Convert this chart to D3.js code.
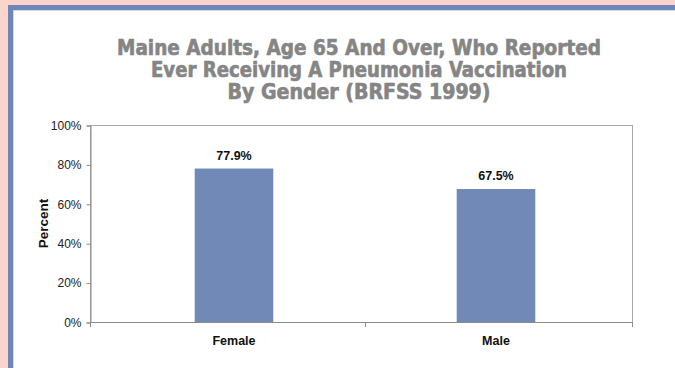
<!DOCTYPE html>
<html><head><meta charset="utf-8">
<script src="https://cdn.jsdelivr.net/npm/d3@7"></script>
<style>html,body{margin:0;padding:0;background:#fbd5cb;} svg{display:block}</style>
</head><body><svg id="c" width="675" height="368"></svg>
<script>
// Pneumonia vaccination among Maine adults 65+, by gender (BRFSS 1999)
const categories = ["Female", "Male"];
const values = [77.9, 67.5];
const valueLabels = ["77.9%", "67.5%"];
const yTicks = [0, 20, 40, 60, 80, 100];
const titleLines = [
  "Maine Adults, Age 65 And Over, Who Reported",
  "Ever Receiving A Pneumonia Vaccination",
  "By Gender (BRFSS 1999)"
];
const yTitle = "Percent";

const W = 675, H = 368;
const plot = {left: 90, right: 632, top: 125, bottom: 322};
const svg = d3.select("#c");

// page frame: pink margin, blue border, white panel
svg.append("rect").attr("width", W).attr("height", H).attr("fill", "#fbd5cb");
svg.append("rect").attr("x", 8).attr("y", 5).attr("width", W).attr("height", H).attr("fill", "#6f87b7");
svg.append("rect").attr("x", 13).attr("y", 10).attr("width", W).attr("height", H).attr("fill", "#cdd8ea");
svg.append("rect").attr("x", 14).attr("y", 11).attr("width", W).attr("height", H).attr("fill", "#ffffff");

// title (heavy condensed face)
const titleWidths = [484, 416, 263];
svg.append("g").selectAll("text").data(titleLines).join("text")
  .attr("x", 359).attr("y", (d, i) => 55 + i * 22)
  .attr("text-anchor", "middle")
  .attr("font-family", "'Liberation Sans Narrow', 'DejaVu Sans Condensed', sans-serif")
  .attr("font-weight", "bold")
  .attr("font-size", 20.5)
  .attr("fill", "#858585")
  .attr("stroke", "#858585").attr("stroke-width", 0.6)
  .attr("textLength", (d, i) => titleWidths[i])
  .attr("lengthAdjust", "spacingAndGlyphs")
  .text(d => d);

const y = d3.scaleLinear().domain([0, 100]).range([plot.bottom, plot.top]);
const x = d3.scaleBand().domain(categories).range([103, 627]);
const barW = x.bandwidth() * 0.3;

// plot frame
svg.append("rect")
  .attr("x", plot.left + 0.5).attr("y", plot.top + 0.5)
  .attr("width", plot.right - plot.left).attr("height", plot.bottom - plot.top)
  .attr("fill", "none").attr("stroke", "#a8a8a8").attr("stroke-width", 1);

// y axis
const yAxis = d3.axisLeft(y).tickValues(yTicks).tickFormat(d => d + "%").tickSize(4).tickPadding(5);
const ya = svg.append("g").attr("transform", `translate(${plot.left + 0.5},0.5)`).call(yAxis);
ya.select(".domain").attr("stroke", "#8c8c8c");
ya.selectAll(".tick line").attr("stroke", "#8c8c8c");
ya.selectAll("text").attr("font-family", "'Liberation Sans', Arial, sans-serif")
  .attr("font-size", 12).attr("fill", "#222");

// x axis line with category boundary ticks
svg.append("line").attr("x1", plot.left).attr("x2", plot.right + 1)
  .attr("y1", plot.bottom + 0.5).attr("y2", plot.bottom + 0.5)
  .attr("stroke", "#8c8c8c");
const bounds = [plot.left, x("Male"), plot.right];
svg.append("g").selectAll("line").data(bounds).join("line")
  .attr("x1", d => Math.round(d) + 0.5).attr("x2", d => Math.round(d) + 0.5)
  .attr("y1", plot.bottom).attr("y2", plot.bottom + 5)
  .attr("stroke", "#8c8c8c");

// bars
const data = categories.map((c, i) => ({c, v: values[i], label: valueLabels[i]}));
svg.append("g").selectAll("rect").data(data).join("rect")
  .attr("x", d => x(d.c) + (x.bandwidth() - barW) / 2)
  .attr("y", d => y(d.v))
  .attr("width", barW)
  .attr("height", d => y(0) - y(d.v))
  .attr("fill", "#7189b7");

// value labels
svg.append("g").selectAll("text").data(data).join("text")
  .attr("x", d => x(d.c) + x.bandwidth() / 2)
  .attr("y", d => y(d.v) - 9)
  .attr("text-anchor", "middle")
  .attr("font-family", "'Liberation Sans', Arial, sans-serif")
  .attr("font-weight", "bold").attr("font-size", 12.5).attr("fill", "#111")
  .text(d => d.label);

// category labels
svg.append("g").selectAll("text").data(categories).join("text")
  .attr("x", d => x(d) + x.bandwidth() / 2)
  .attr("y", 345)
  .attr("text-anchor", "middle")
  .attr("font-family", "'Liberation Sans', Arial, sans-serif")
  .attr("font-weight", "bold").attr("font-size", 12.5).attr("fill", "#111")
  .text(d => d);

// y axis title
svg.append("text")
  .attr("transform", `translate(48,${(plot.top + plot.bottom) / 2}) rotate(-90)`)
  .attr("text-anchor", "middle")
  .attr("font-family", "'Liberation Sans', Arial, sans-serif")
  .attr("font-weight", "bold").attr("font-size", 13.5).attr("fill", "#111")
  .text(yTitle);
</script>
</body></html>
